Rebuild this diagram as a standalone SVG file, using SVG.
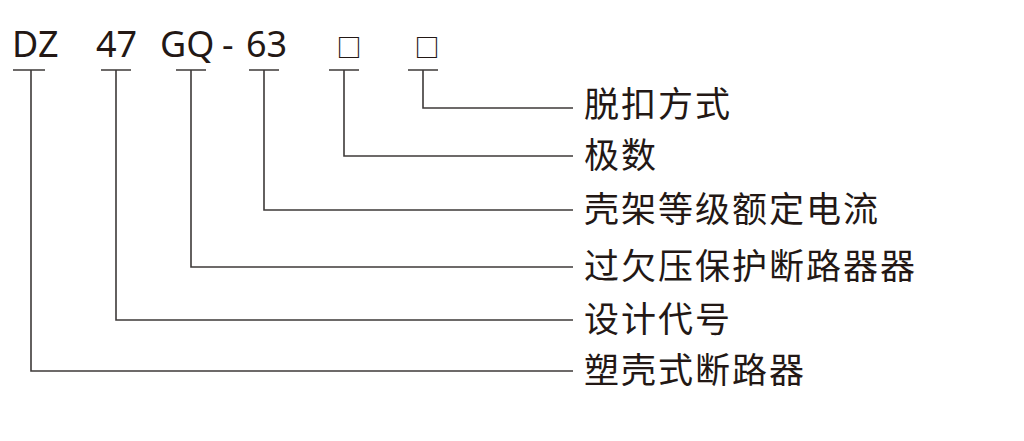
<svg xmlns="http://www.w3.org/2000/svg" width="1024" height="441" viewBox="0 0 1024 441">
<style>
.code{font-family:"Noto Sans","Noto Sans CJK SC",sans-serif;font-size:36px;fill:#231815}
.box{font-family:"Noto Sans CJK SC",sans-serif;font-size:25px;font-weight:700;fill:#231815}
.lbl{font-family:"Noto Sans CJK SC",sans-serif;font-size:35px;fill:#231815;letter-spacing:2px}
.ln{fill:none;stroke:#3e3a39;stroke-width:1.6}
</style>
<rect width="1024" height="441" fill="#fff"/>
<g id="code">
<text class="code" x="12" y="57">DZ</text>
<text class="code" x="96" y="57">47</text>
<text class="code" x="160" y="57">GQ</text>
<text class="code" x="222" y="57">-</text>
<text class="code" x="246" y="57">63</text>
<text class="box" x="336.5" y="57">□</text>
<text class="box" x="414.5" y="57">□</text>
</g>
<g id="connectors">
<path class="ln" d="M13 70H45M31 70V371H573"/>
<path class="ln" d="M101 70H131M116 70V320H573"/>
<path class="ln" d="M176 70H206M191 70V267H573"/>
<path class="ln" d="M249 70H279M264 70V210H573"/>
<path class="ln" d="M329 70H359M344 70V156H573"/>
<path class="ln" d="M408 70H438M423 70V108H573"/>
</g>
<g id="labels">
<text id="n1" class="lbl" x="584" y="117">脱扣方式</text>
<text id="n2" class="lbl" x="584" y="168">极数</text>
<text id="n3" class="lbl" x="584" y="222">壳架等级额定电流</text>
<text id="n4" class="lbl" x="584" y="279">过欠压保护断路器器</text>
<text id="n5" class="lbl" x="584" y="332">设计代号</text>
<text id="n6" class="lbl" x="584" y="383">塑壳式断路器</text>
</g>
</svg>
